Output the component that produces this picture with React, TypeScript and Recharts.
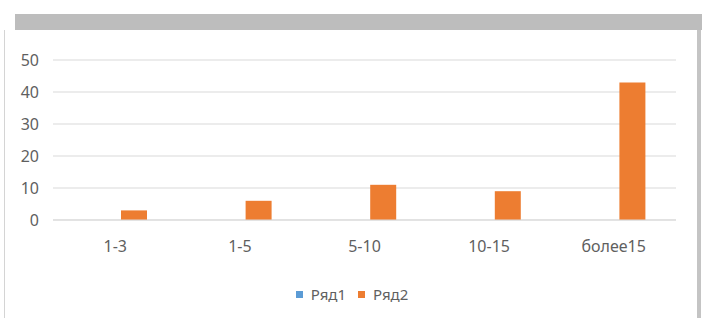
import {
  BarChart,
  Bar,
  XAxis,
  YAxis,
  CartesianGrid,
  Legend,
} from "recharts";

const categories = ["1-3", "1-5", "5-10", "10-15", "более15"];
const series1 = [0, 0, 0, 0, 0];
const series2 = [3, 6, 11, 9, 43];
const yTicks = [0, 10, 20, 30, 40, 50];

const data = categories.map((c, i) => ({
  name: c,
  r1: series1[i],
  r2: series2[i],
}));

const font = "'Noto Sans', sans-serif";

function LegendContent({ payload }: any) {
  return (
    <div style={{ display: "flex", justifyContent: "center", height: 20, alignItems: "center", paddingLeft: 40 }}>
      {(payload || []).map((p: any) => (
        <div key={p.value} style={{ display: "flex", alignItems: "center", marginRight: 12 }}>
          <span style={{ width: 7, height: 7, background: p.color, marginRight: 8, display: "inline-block" }} />
          <span style={{ fontSize: 15, color: "#5f5f5f", fontFamily: font }}>{p.value}</span>
        </div>
      ))}
    </div>
  );
}

export default function App() {
  return (
    <div style={{ position: "absolute", left: 0, top: 0, width: 702, height: 318, background: "#fff" }}>
      <div style={{ position: "absolute", left: 15, top: 14, width: 687, height: 16, background: "#bdbdbd" }} />
      <div style={{ position: "absolute", left: 4, top: 30, width: 1, height: 288, background: "#d4d4d4" }} />
      <div style={{ position: "absolute", left: 697, top: 30, width: 4, height: 288, background: "#c4c4c4" }} />
      <div style={{ position: "absolute", left: 0, top: 0 }}>
        <BarChart
          width={702}
          height={318}
          data={data}
          margin={{ top: 60, right: 26, left: 0, bottom: 48 }}
          barSize={26}
          barGap={11}
        >
          <CartesianGrid vertical={false} stroke="#d9d9d9" />
          <XAxis
            dataKey="name"
            height={30}
            tickLine={false}
            axisLine={{ stroke: "#d9d9d9" }}
            tick={{ fill: "#5f5f5f", fontSize: 16, fontFamily: font }}
            tickMargin={15}
          />
          <YAxis
            width={53}
            domain={[0, 50]}
            ticks={yTicks}
            tickLine={false}
            axisLine={false}
            tick={{ fill: "#5f5f5f", fontSize: 16, fontFamily: font }}
            tickMargin={8}
          />
          <Legend content={<LegendContent />} wrapperStyle={{ bottom: 14 }} />
          <Bar dataKey="r1" name="Ряд1" fill="#5B9BD5" isAnimationActive={false} />
          <Bar dataKey="r2" name="Ряд2" fill="#ED7D31" isAnimationActive={false} />
        </BarChart>
      </div>
    </div>
  );
}
